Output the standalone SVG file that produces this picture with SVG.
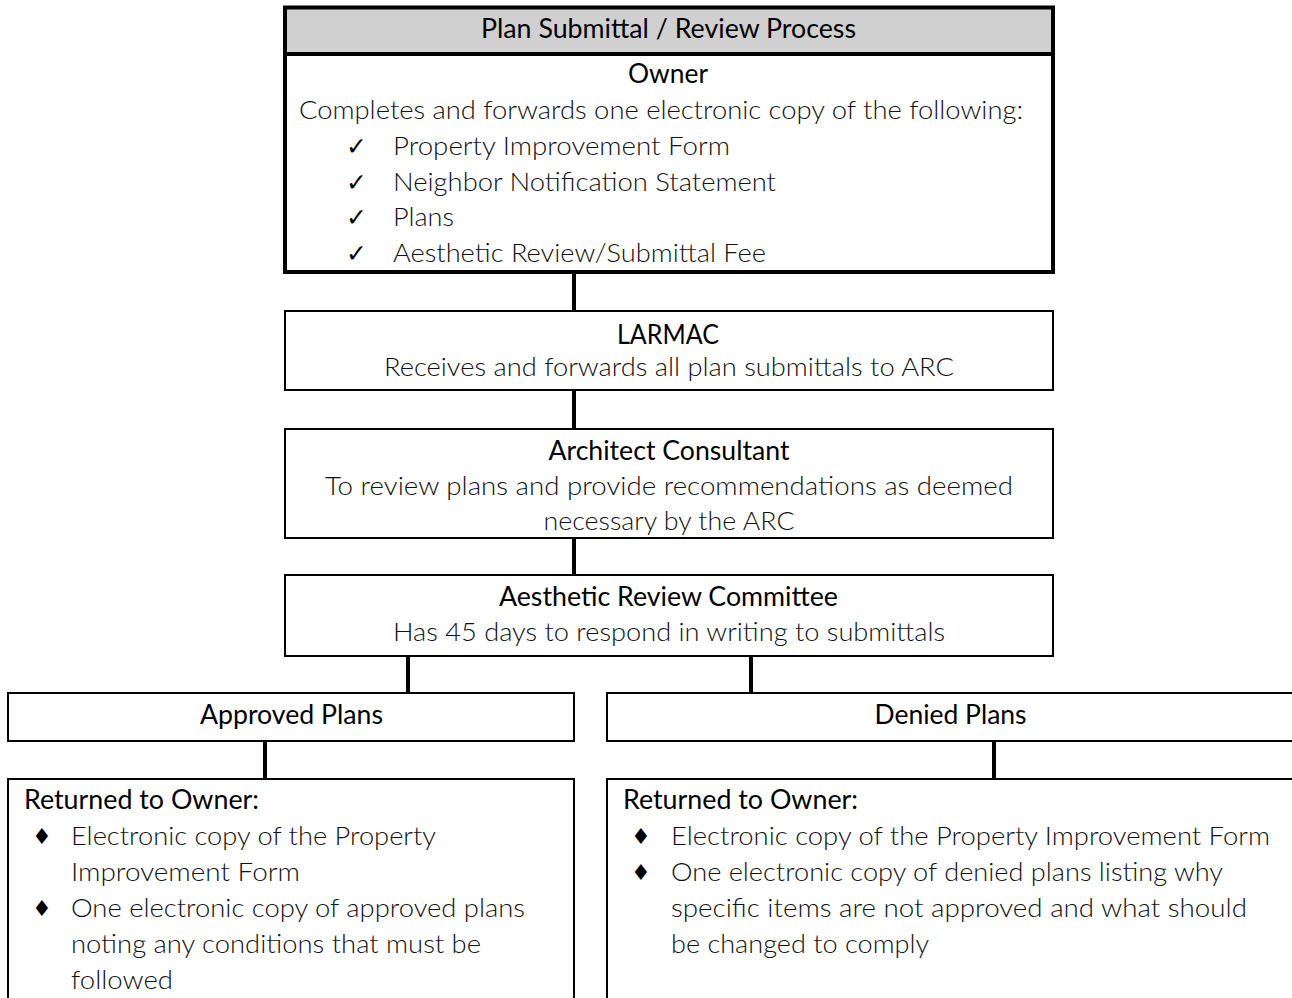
<svg xmlns="http://www.w3.org/2000/svg" width="1292" height="998" viewBox="0 0 1292 998">
<style>
.box{fill:#fff;stroke:#000;stroke-width:2}
.thick{fill:none;stroke:#000;stroke-width:4}
.conn{fill:none;stroke:#000;stroke-width:4}
.h{font-family:Lato,"Liberation Sans",sans-serif;font-size:26px;font-weight:400;fill:#000}
.t{font-family:Lato,"Liberation Sans",sans-serif;font-size:26px;font-weight:300;fill:#111}
.sym{font-family:"DejaVu Sans",sans-serif;font-size:25px;fill:#000}
.dia{font-family:"DejaVu Sans",sans-serif;font-size:22px;fill:#000}
.m{text-anchor:middle}
</style>
<rect width="1292" height="998" fill="#fff"/>
<g id="connectors">
<path class="conn" d="M574 274V311M574 390V429M574 538V575M408 656V693M751 656V693M265 741V779M994 741V779"/>
</g>
<g id="owner">
<rect x="285" y="7.5" width="768" height="46.5" fill="#d0d0d0"/>
<rect class="thick" x="285" y="7.5" width="768" height="264.5"/>
<line x1="285" y1="54" x2="1053" y2="54" stroke="#000" stroke-width="4"/>
<text class="h m" x="668.5" y="38" textLength="375" lengthAdjust="spacingAndGlyphs">Plan Submittal / Review Process</text>
<text class="h m" x="668" y="83" textLength="80" lengthAdjust="spacingAndGlyphs">Owner</text>
<text class="t" x="299" y="119" textLength="724" lengthAdjust="spacingAndGlyphs">Completes and forwards one electronic copy of the following:</text>
<text class="sym" x="346" y="155">✓</text>
<text class="sym" x="346" y="191">✓</text>
<text class="sym" x="346" y="226">✓</text>
<text class="sym" x="346" y="262">✓</text>
<text class="t" x="393" y="155" textLength="337" lengthAdjust="spacingAndGlyphs">Property Improvement Form</text>
<text class="t" x="393" y="191" textLength="383" lengthAdjust="spacingAndGlyphs">Neighbor Notification Statement</text>
<text class="t" x="393" y="226" textLength="61" lengthAdjust="spacingAndGlyphs">Plans</text>
<text class="t" x="393" y="262" textLength="373" lengthAdjust="spacingAndGlyphs">Aesthetic Review/Submittal Fee</text>
</g>
<g id="larmac">
<rect class="box" x="285" y="311" width="768" height="79"/>
<text class="h m" x="668" y="344" textLength="102" lengthAdjust="spacingAndGlyphs">LARMAC</text>
<text class="t" x="384" y="376" textLength="570" lengthAdjust="spacingAndGlyphs">Receives and forwards all plan submittals to ARC</text>
</g>
<g id="architect">
<rect class="box" x="285" y="429" width="768" height="109"/>
<text class="h m" x="669" y="460" textLength="241" lengthAdjust="spacingAndGlyphs">Architect Consultant</text>
<text class="t" x="325" y="495" textLength="688" lengthAdjust="spacingAndGlyphs">To review plans and provide recommendations as deemed</text>
<text class="t m" x="669" y="530" textLength="251" lengthAdjust="spacingAndGlyphs">necessary by the ARC</text>
</g>
<g id="arc">
<rect class="box" x="285" y="575" width="768" height="81"/>
<text class="h m" x="668.5" y="606" textLength="339" lengthAdjust="spacingAndGlyphs">Aesthetic Review Committee</text>
<text class="t" x="393" y="641" textLength="552" lengthAdjust="spacingAndGlyphs">Has 45 days to respond in writing to submittals</text>
</g>
<g id="approved">
<rect class="box" x="8" y="693" width="566" height="48"/>
<text class="h m" x="291.5" y="724" textLength="183" lengthAdjust="spacingAndGlyphs">Approved Plans</text>
</g>
<g id="denied">
<rect class="box" x="607" y="693" width="690" height="48"/>
<text class="h m" x="950.5" y="724" textLength="152" lengthAdjust="spacingAndGlyphs">Denied Plans</text>
</g>
<g id="approved-return">
<rect class="box" x="8" y="779" width="566" height="240"/>
<text class="h" x="24" y="809" textLength="235" lengthAdjust="spacingAndGlyphs">Returned to Owner:</text>
<text class="dia" x="32" y="844">♦</text>
<text class="dia" x="32" y="916">♦</text>
<text class="t" x="71" y="845" textLength="365" lengthAdjust="spacingAndGlyphs">Electronic copy of the Property</text>
<text class="t" x="71" y="881" textLength="229" lengthAdjust="spacingAndGlyphs">Improvement Form</text>
<text class="t" x="71" y="917" textLength="454" lengthAdjust="spacingAndGlyphs">One electronic copy of approved plans</text>
<text class="t" x="71" y="953" textLength="410" lengthAdjust="spacingAndGlyphs">noting any conditions that must be</text>
<text class="t" x="71" y="989" textLength="102" lengthAdjust="spacingAndGlyphs">followed</text>
</g>
<g id="denied-return">
<rect class="box" x="607" y="779" width="690" height="240"/>
<text class="h" x="623" y="809" textLength="235" lengthAdjust="spacingAndGlyphs">Returned to Owner:</text>
<text class="dia" x="631" y="844">♦</text>
<text class="dia" x="631" y="880">♦</text>
<text class="t" x="671" y="845" textLength="599" lengthAdjust="spacingAndGlyphs">Electronic copy of the Property Improvement Form</text>
<text class="t" x="671" y="881" textLength="552" lengthAdjust="spacingAndGlyphs">One electronic copy of denied plans listing why</text>
<text class="t" x="671" y="917" textLength="576" lengthAdjust="spacingAndGlyphs">specific items are not approved and what should</text>
<text class="t" x="671" y="953" textLength="258" lengthAdjust="spacingAndGlyphs">be changed to comply</text>
</g>
</svg>
